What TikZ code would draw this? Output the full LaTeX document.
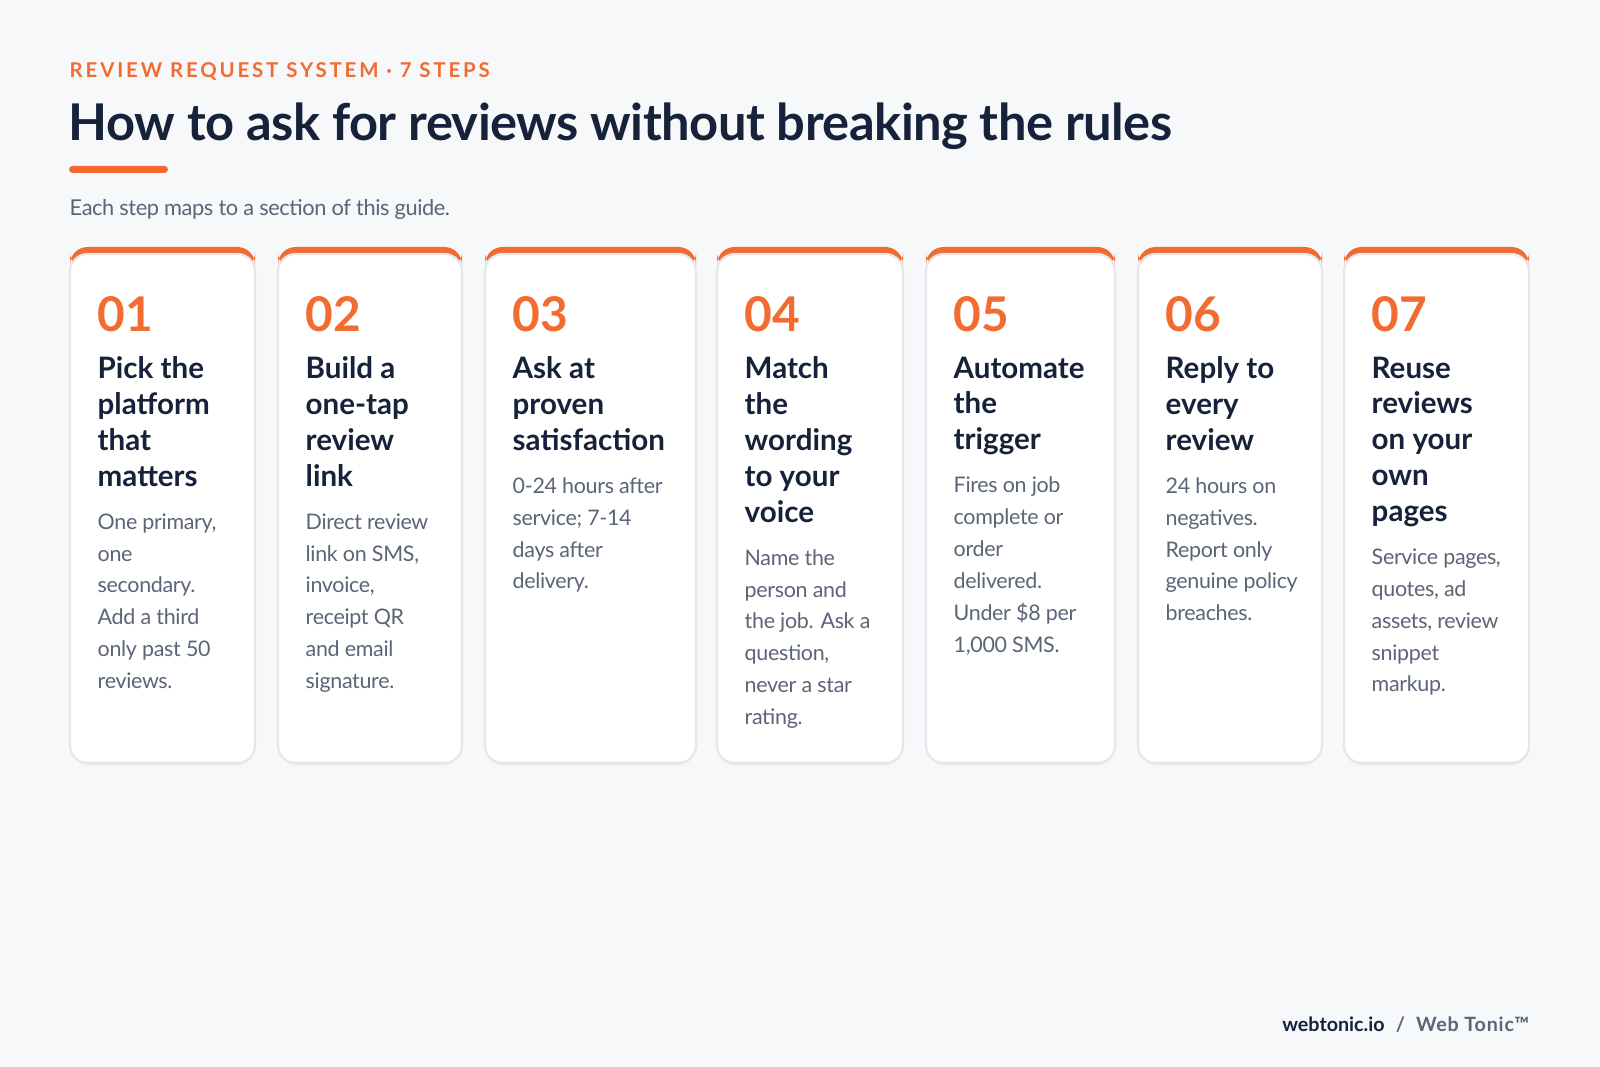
\documentclass[tikz,border=0pt]{standalone}
\usepackage{fontspec}
\setmainfont{Lato}
\usetikzlibrary{positioning}
\definecolor{bgc}{HTML}{F6F8FA}
\definecolor{accent}{HTML}{F26B30}
\definecolor{navy}{HTML}{16213A}
\definecolor{bodyc}{HTML}{5B6577}
\definecolor{edgec}{HTML}{E3E7EC}
\tikzset{
  card/.style={fill=white, draw=edgec, line width=0.6pt, rounded corners=5pt},
  topbar/.style={fill=accent, rounded corners=5pt},
  num/.style={anchor=base west, text=accent, font=\fontsize{13.6}{14}\selectfont\bfseries, inner sep=0pt},
  steptext/.style={anchor=north west, inner sep=0pt, align=left},
}
\newcommand{\stepbox}[3]{\parbox[t]{#1}{\raggedright\color{navy}\fontsize{8.4}{10.2}\selectfont\bfseries #2\par
  \vspace{3.2pt}\color{bodyc}\fontsize{6.1}{9.05}\selectfont\mdseries\addfontfeature{LetterSpace=-1.5} #3}}
\begin{document}
\begin{tikzpicture}[x=0.01cm,y=-0.01cm]
  \fill[bgc] (0,0) rectangle (1600,1067);
  \useasboundingbox (0,0) rectangle (1600,1067);
  % header
  \node[anchor=base west, inner sep=0pt, text=accent, font=\fontsize{5.8}{7}\selectfont\bfseries\addfontfeature{LetterSpace=14}] (eyebrow) at (69,78) {REVIEW REQUEST SYSTEM · 7 STEPS};
  \node[anchor=base west, inner sep=0pt, text=navy, font=\fontsize{14.4}{16}\selectfont\bfseries\addfontfeature{LetterSpace=-1}] (title) at (68,141) {How to ask for reviews without breaking the rules};
  \fill[accent, rounded corners=1pt] (69,166) rectangle (168,173);
  \node[anchor=base west, inner sep=0pt, text=bodyc, font=\fontsize{6.2}{8}\selectfont\addfontfeature{LetterSpace=-2}] (subtitle) at (69,216) {Each step maps to a section of this guide.};
  % cards
  \foreach \n/\xa/\xb/\head/\body in {
    01/70/255/{Pick the\\platform\\that\\matters}/{One primary,\\one\\secondary.\\Add a third\\only past 50\\reviews.},
    02/278/462/{Build a\\one-tap\\review\\link}/{Direct review\\link on SMS,\\invoice,\\receipt QR\\and email\\signature.},
    03/485/696/{Ask at\\proven\\satisfaction}/{0-24 hours after\\service; 7-14\\days after\\delivery.},
    04/717/903/{Match\\the\\wording\\to your\\voice}/{Name the\\person and\\the job. Ask a\\question,\\never a star\\rating.},
    05/926/1115/{Automate\\the\\trigger}/{Fires on job\\complete or\\order\\delivered.\\Under \$8 per\\1,000 SMS.},
    06/1138/1322/{Reply to\\every\\review}/{24 hours on\\negatives.\\Report only\\genuine policy\\breaches.},
    07/1344/1529/{Reuse\\reviews\\on your\\own\\pages}/{Service pages,\\quotes, ad\\assets, review\\snippet\\markup.}} {
    \fill[black!6, rounded corners=6pt] (\xa-1,250) rectangle (\xb+1,766);
    \path[topbar] (\xa,247) rectangle (\xb,270);
    \path[card] (\xa,254) rectangle (\xb,763);
    \node[num] (num\n) at (\xa+27,332) {\n};
    \node[steptext] (text\n) at (\xa+27,356) {\stepbox{4cm}{\head}{\body}};
  }
  % footer
  \node[anchor=base east, inner sep=0pt, font=\fontsize{5.6}{7}\selectfont\bfseries] (footer) at (1530,1031)
    {\textcolor{navy}{webtonic.io}\textcolor{bodyc}{\addfontfeature{LetterSpace=4}\ \ /\ \ Web Tonic™}};
\end{tikzpicture}
\end{document}
